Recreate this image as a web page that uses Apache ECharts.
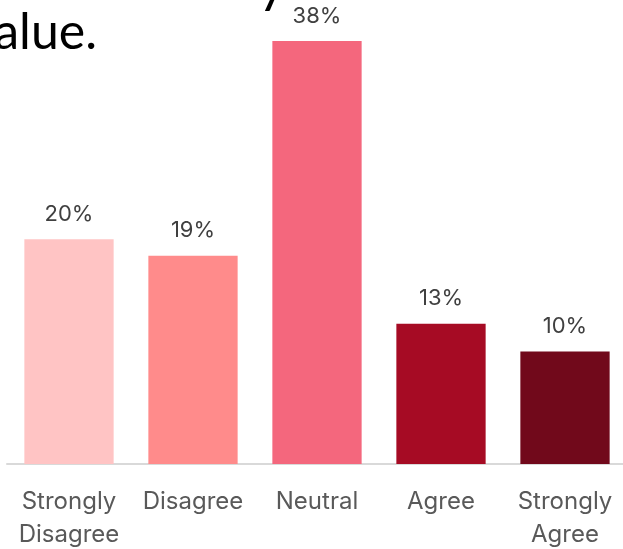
<!DOCTYPE html>
<html>
<head>
<meta charset="utf-8">
<script src="https://cdn.jsdelivr.net/npm/echarts@6/dist/echarts.min.js"></script>
<style>
html,body{margin:0;padding:0;background:#fff;overflow:hidden;}
#chart{width:623px;height:549px;}
</style>
</head>
<body>
<div id="chart"></div>
<script>
var categories = ['Strongly Disagree', 'Disagree', 'Neutral', 'Agree', 'Strongly Agree'];
var values = [20.2, 18.7, 38.0, 12.6, 10.1];
var barColors = ['#FFC4C4', '#FF8B8B', '#F4677D', '#A60B24', '#71091B'];

var chart = echarts.init(document.getElementById('chart'), null, {renderer: 'canvas'});
var titleFont = 'Lato, "Noto Sans", sans-serif';
var font = 'Inter, "Noto Sans", sans-serif';
chart.setOption({
  animation: false,
  graphic: [
    {type: 'text', left: -31, top: 8, style: {text: 'value.', font: '50px ' + titleFont, fill: '#000'}},
    {type: 'text', left: 258, top: -42, style: {text: 'y', font: '54px ' + titleFont, fill: '#000'}}
  ],
  grid: {left: 7, width: 620, top: 41, bottom: 85, outerBoundsMode: 'none', containLabel: false},
  xAxis: {
    type: 'category',
    data: categories,
    axisTick: {show: false},
    axisLine: {lineStyle: {color: '#d9d9d9', width: 2}},
    axisLabel: {
      color: '#595959', fontSize: 24, fontFamily: font, margin: 21, lineHeight: 33, interval: 0,
      formatter: function (v) { return v.replace(' ', '\n'); }
    }
  },
  yAxis: {type: 'value', min: 0, max: 38, show: false, splitLine: {show: false}},
  series: [{
    type: 'bar',
    data: values.map(function (v, i) { return {value: v, itemStyle: {color: barColors[i]}}; }),
    barWidth: '72%',
    label: {
      show: true, position: 'top', distance: 14, color: '#404040', fontSize: 22, fontFamily: font,
      formatter: function (p) { return Math.round(p.value) + '%'; }
    }
  }]
});
</script>
</body>
</html>
